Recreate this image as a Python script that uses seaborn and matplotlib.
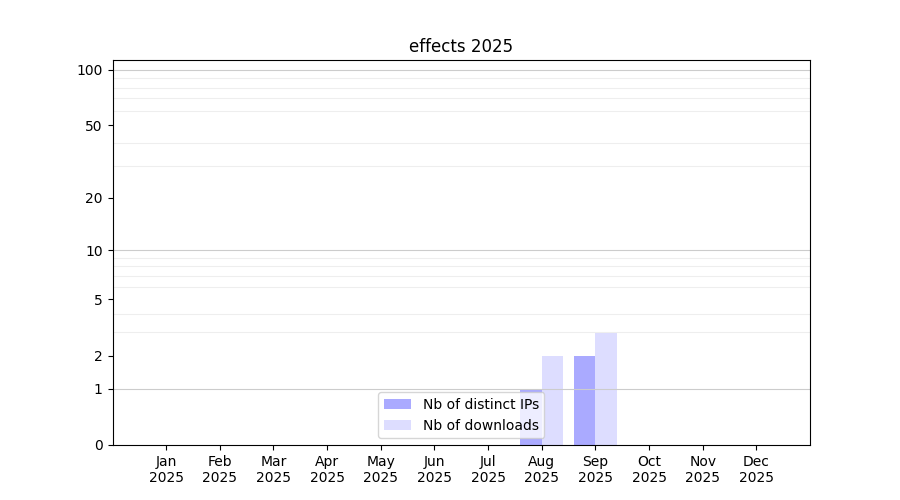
import numpy as np
import pandas as pd
import seaborn as sns
import matplotlib
matplotlib.use('Agg')
import matplotlib.pyplot as plt

# 数据
months = ['Jan', 'Feb', 'Mar', 'Apr', 'May', 'Jun', 'Jul', 'Aug', 'Sep', 'Oct', 'Nov', 'Dec']
year = '2025'
distinct_ips = [0, 0, 0, 0, 0, 0, 0, 1, 2, 0, 0, 0]
downloads = [0, 0, 0, 0, 0, 0, 0, 2, 3, 0, 0, 0]
series_names = ['Nb of distinct IPs', 'Nb of downloads']
series_colors = ['#aaaaff', '#ddddff']
y_ticks = [0, 1, 2, 5, 10, 20, 50, 100]
y_decades = [1, 10, 100]
y_minor = [2, 3, 4, 5, 6, 7, 8, 9, 20, 30, 40, 50, 60, 70, 80, 90]

# 长表
df = pd.DataFrame({
    'month': months * 2,
    'value': distinct_ips + downloads,
    'series': [series_names[0]] * len(months) + [series_names[1]] * len(months),
})

fig, ax = plt.subplots(figsize=(9, 5), dpi=100)

sns.barplot(data=df, x='month', y='value', hue='series', order=months,
            hue_order=series_names, palette=series_colors, saturation=1,
            width=0.8, ax=ax)

# y 轴: log10(x+1)
ax.set_yscale('function', functions=(lambda v: np.log10(np.maximum(v, 0) + 1),
                                      lambda v: 10 ** v - 1))
ax.set_ylim(0, 113)
ax.set_yticks(y_ticks)
ax.set_yticklabels([str(t) for t in y_ticks])
ax.set_yticks(y_minor, minor=True)
ax.tick_params(axis='y', which='minor', length=0)
ax.grid(False, which='major')
ax.grid(True, axis='y', which='minor', color='#eeeeee', linewidth=0.8)
for d in y_decades:
    ax.axhline(d, color='#cccccc', linewidth=0.8, zorder=1.5)

ax.set_xlim(-1, 12)
ax.set_xticks(range(len(months)))
ax.set_xticklabels([f'{m}\n{year}' for m in months])

ax.set_xlabel('')
ax.set_ylabel('')
ax.set_title('effects 2025')
ax.legend(loc='lower center')

fig.savefig('out.png', dpi=100)
